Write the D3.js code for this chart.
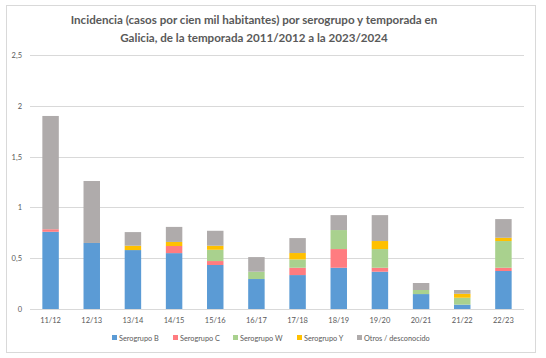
<!DOCTYPE html>
<html><head><meta charset="utf-8">
<script src="https://cdn.jsdelivr.net/npm/d3@7"></script>
<style>body{margin:0;background:#fff}svg{display:block}text{font-family:Lato,"Open Sans",sans-serif}</style>
</head><body><svg id="c" width="546" height="358"></svg>
<script>
const categories = ["11/12","12/13","13/14","14/15","15/16","16/17","17/18","18/19","19/20","20/21","21/22","22/23"];
const serogrupoB = [0.76,0.65,0.58,0.55,0.433,0.295,0.334,0.406,0.367,0.147,0.043,0.374];
const serogrupoC = [0.025,0,0,0.07,0.039,0,0.072,0.184,0.039,0,0,0.032];
const serogrupoW = [0,0,0,0,0.111,0.072,0.082,0.187,0.184,0.04,0.068,0.263];
const serogrupoY = [0,0,0.043,0.04,0.04,0,0.063,0,0.079,0,0.039,0.032];
const otros = [1.115,0.61,0.134,0.148,0.147,0.144,0.147,0.147,0.255,0.069,0.037,0.184];
const seriesNames = ["Serogrupo B","Serogrupo C","Serogrupo W","Serogrupo Y","Otros / desconocido"];
const yTicks = [0,0.5,1,1.5,2,2.5];
const yTickLabels = ["0","0,5","1","1,5","2","2,5"];
const colors = ["#5B9BD5","#FF7C80","#A9D18E","#FFC000","#AFABAB"];

const svg = d3.select("#c");
svg.append("rect").attr("x",6.5).attr("y",5.5).attr("width",529).attr("height",347).attr("fill","#fff").attr("stroke","#D9D9D9");

const title = ["Incidencia (casos por cien mil habitantes) por serogrupo y temporada en",
               "Galicia, de la temporada 2011/2012 a la 2023/2024"];
title.forEach((t,i)=>{
  svg.append("text").attr("x",254).attr("y",24+i*18).attr("text-anchor","middle").attr("font-size",11.6).attr("font-weight","bold").attr("fill","#595959").text(t);
});

const x = d3.scaleBand().domain(categories).range([30,524]).paddingInner(0.6).paddingOuter(0.3);
const y = d3.scaleLinear().domain([0,2.5]).range([309,55]);

const g = svg.append("g");
g.selectAll("line.grid").data(yTicks).join("line").attr("class","grid")
  .attr("x1",30).attr("x2",524).attr("y1",d=>Math.round(y(d))+0.5).attr("y2",d=>Math.round(y(d))+0.5)
  .attr("stroke","#D9D9D9").attr("stroke-width",1);
g.selectAll("text.yt").data(yTicks).join("text").attr("class","yt")
  .attr("x",22).attr("y",d=>y(d)+3).attr("text-anchor","end").attr("font-size",7.5).attr("fill","#595959")
  .text((d,i)=>yTickLabels[i]);

const rows = categories.map((c,i)=>({cat:c, s0:serogrupoB[i], s1:serogrupoC[i], s2:serogrupoW[i], s3:serogrupoY[i], s4:otros[i]}));
const stack = d3.stack().keys(["s0","s1","s2","s3","s4"])(rows);
g.selectAll("g.layer").data(stack).join("g").attr("class","layer").attr("fill",(d,i)=>colors[i])
  .selectAll("rect").data(d=>d).join("rect")
  .attr("x",d=>x(d.data.cat)).attr("width",x.bandwidth())
  .attr("y",d=>y(d[1])).attr("height",d=>Math.max(0,y(d[0])-y(d[1])));

g.selectAll("text.xt").data(categories).join("text").attr("class","xt")
  .attr("x",d=>x(d)+x.bandwidth()/2).attr("y",323).attr("text-anchor","middle").attr("font-size",7.5).attr("fill","#595959").text(d=>d);

const legX = [112,173,233,297,357];
const lg = svg.append("g");
seriesNames.forEach((n,i)=>{
  lg.append("rect").attr("x",legX[i]).attr("y",335).attr("width",5).attr("height",5).attr("fill",colors[i]);
  lg.append("text").attr("x",legX[i]+7).attr("y",340.5).attr("font-size",7.3).attr("fill","#595959").text(n);
});
</script></body></html>
